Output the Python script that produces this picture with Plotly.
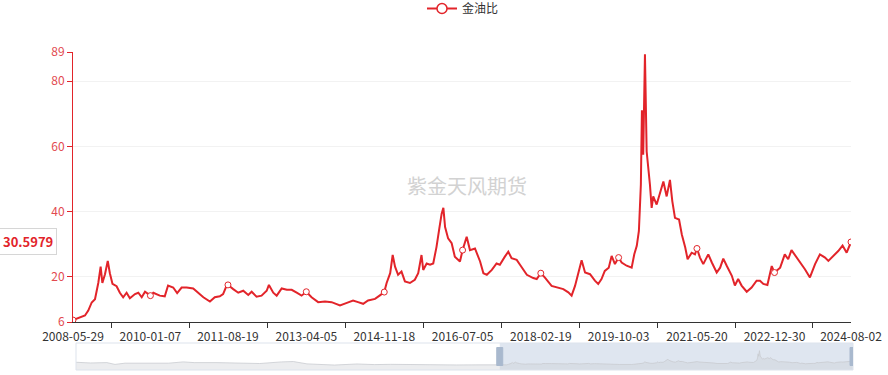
import plotly.graph_objects as go
import pandas as pd

series_name = "金油比"
watermark_text = "紫金天风期货"

# ---- main series ----
dates = [
    "2008-05-29", "2008-07-20", "2008-08-28", "2008-09-22", "2008-10-18", "2008-11-12", "2008-12-07", "2008-12-25",
    "2009-01-07", "2009-01-27", "2009-02-17", "2009-03-05", "2009-03-25", "2009-04-25", "2009-05-20", "2009-06-14",
    "2009-07-10", "2009-08-04", "2009-09-12", "2009-10-07", "2009-11-02", "2009-11-27",
    "2010-01-07", "2010-01-29", "2010-03-19", "2010-04-26", "2010-05-21", "2010-06-29", "2010-07-29", "2010-09-01",
    "2010-10-09", "2010-11-28",
    "2011-01-06", "2011-02-13", "2011-04-04", "2011-05-11", "2011-06-18", "2011-07-13", "2011-08-09", "2011-08-19",
    "2011-09-28", "2011-11-05", "2011-12-13",
    "2012-01-20", "2012-02-15", "2012-03-23", "2012-04-30", "2012-06-08", "2012-06-25", "2012-07-28", "2012-08-23",
    "2012-09-30", "2012-11-08", "2012-12-15",
    "2013-01-22", "2013-02-28", "2013-04-05", "2013-05-15", "2013-07-04", "2013-08-25", "2013-10-14", "2013-11-22",
    "2013-12-17",
    "2014-02-07", "2014-03-26", "2014-05-03", "2014-06-11", "2014-07-18", "2014-09-09", "2014-10-16", "2014-11-18",
    "2014-12-06",
    "2015-01-02", "2015-01-21", "2015-02-08", "2015-03-03", "2015-03-29", "2015-04-24", "2015-06-01", "2015-07-08",
    "2015-08-03", "2015-08-28", "2015-09-10", "2015-10-06", "2015-11-01", "2015-11-25", "2015-12-20",
    "2016-01-10", "2016-01-28", "2016-02-10", "2016-02-23", "2016-03-17", "2016-04-13", "2016-05-07", "2016-06-15",
    "2016-07-05", "2016-08-05", "2016-08-30", "2016-10-07", "2016-11-15", "2016-12-10",
    "2017-01-05", "2017-02-12", "2017-03-20", "2017-04-14", "2017-05-22", "2017-06-17", "2017-07-12", "2017-08-20",
    "2017-09-14", "2017-11-05", "2017-12-24",
    "2018-01-19", "2018-02-19", "2018-03-21", "2018-05-12", "2018-07-01", "2018-08-09", "2018-09-16", "2018-10-11",
    "2018-11-06", "2018-12-01", "2018-12-26",
    "2019-01-21", "2019-02-28", "2019-04-06", "2019-05-01", "2019-05-26", "2019-06-20", "2019-07-20", "2019-08-11",
    "2019-09-05", "2019-10-03", "2019-10-26", "2019-12-03",
    "2020-01-10", "2020-01-30", "2020-02-18", "2020-03-05", "2020-03-20", "2020-03-28", "2020-04-07", "2020-04-20",
    "2020-05-03", "2020-05-15", "2020-05-28", "2020-06-10", "2020-06-22", "2020-07-18", "2020-08-12", "2020-09-07",
    "2020-10-02", "2020-10-27", "2020-11-14", "2020-12-04",
    "2021-01-04", "2021-01-25", "2021-02-20", "2021-03-10", "2021-04-10", "2021-05-05", "2021-05-20", "2021-06-12",
    "2021-07-07", "2021-08-14", "2021-09-10", "2021-10-17", "2021-11-12", "2021-12-06",
    "2022-01-02", "2022-02-09", "2022-03-04", "2022-03-29", "2022-04-24", "2022-06-02", "2022-07-09", "2022-08-16",
    "2022-09-11", "2022-10-06", "2022-11-06", "2022-12-09", "2022-12-30",
    "2023-02-11", "2023-03-18", "2023-04-13", "2023-05-08", "2023-06-10", "2023-07-10", "2023-08-18", "2023-09-25",
    "2023-11-03", "2023-12-10",
    "2024-01-18", "2024-02-12", "2024-03-20", "2024-04-27", "2024-05-30", "2024-06-30", "2024-08-02",
]
values = [
    6.6, 7.3, 8.0, 9.5, 12.0, 13.0, 18.0, 23.0,
    18.0, 20.7, 24.8, 21.0, 17.7, 17.0, 15.0, 13.6,
    15.0, 13.3, 14.6, 15.0, 13.6, 15.3,
    14.1, 15.0, 14.1, 13.9, 17.2, 16.6, 14.9, 16.6,
    16.6, 16.3,
    15.0, 13.6, 12.3, 13.6, 13.9, 14.6, 17.2, 17.4,
    16.1, 15.0, 15.6,
    14.3, 15.3, 13.8, 14.1, 15.6, 17.4, 15.0, 14.1,
    16.3, 15.9, 15.9,
    15.0, 14.1, 15.3, 13.6, 12.1, 12.3, 12.1, 11.6,
    11.1,
    11.9, 12.6, 12.1, 11.6, 12.6, 13.1, 14.2, 15.2,
    18.0,
    21.0, 26.6, 23.0, 20.5, 21.5, 18.5, 18.0, 19.0,
    21.0, 26.6, 22.0, 24.0, 23.6, 24.0, 29.1,
    34.7, 39.3, 41.1, 35.2, 31.7, 30.2, 26.1, 24.6,
    28.1, 32.2, 28.1, 28.6, 24.6, 21.0,
    20.5, 22.0, 24.0, 23.6, 26.1, 27.6, 25.6, 25.1,
    23.6, 20.5, 19.5,
    19.2, 21.0, 19.7, 17.1, 16.6, 16.1, 15.1, 14.1,
    17.1, 20.7, 25.0,
    21.2, 20.7, 18.7, 17.7, 19.2, 21.7, 22.7, 26.3,
    23.8, 25.8, 24.3, 23.3,
    22.7, 26.8, 29.4, 34.0, 48.2, 71.1, 57.4, 88.3,
    58.4, 54.3, 48.2, 41.1, 44.6, 42.1, 45.7, 49.2,
    44.6, 49.7, 43.1, 38.0,
    37.5, 32.9, 28.9, 25.3, 27.3, 26.8, 28.6, 25.8,
    23.8, 26.8, 24.3, 21.2, 22.7, 25.5,
    23.2, 20.2, 17.2, 19.2, 17.2, 15.3, 16.6, 18.7,
    18.7, 17.7, 17.4, 23.2, 21.2,
    22.7, 26.8, 25.3, 28.1, 26.3, 24.3, 22.2, 19.7,
    23.8, 26.8,
    25.8, 24.8, 26.3, 27.8, 29.5, 27.3, 30.5979,
]
assert len(dates) == len(values)

# ---- earlier history, only visible in the zoom slider ----
hist_dates = [
    "1989-01-01", "1989-09-01", "1990-06-01", "1990-10-15", "1991-04-01", "1992-03-01", "1993-04-01", "1993-12-01",
    "1994-06-01", "1995-06-01", "1996-06-01", "1997-06-01", "1998-06-01", "1998-12-15", "1999-08-01", "2000-03-01",
    "2000-11-01", "2001-11-15", "2002-09-01", "2003-06-01", "2004-06-01", "2005-06-01", "2006-06-01", "2007-06-01",
    "2008-01-15",
]
hist_values = [
    24.0, 20.0, 22.0, 12.0, 19.0, 17.5, 19.0, 26.0,
    22.0, 22.0, 18.0, 17.0, 26.0, 28.0, 15.0, 11.0,
    8.5, 14.5, 11.0, 12.5, 10.0, 7.5, 9.0, 9.5,
    10.0,
]

tick_dates = ["2008-05-29", "2010-01-07", "2011-08-19", "2013-04-05", "2014-11-18", "2016-07-05",
              "2018-02-19", "2019-10-03", "2021-05-20", "2022-12-30", "2024-08-02"]
y_ticks = [6, 20, 40, 60, 80, 89]

RED = "#e2242a"
RED_LABEL = "#e24a50"

W, H = 888, 375
ML, MR, MT, MB = 73, 35, 52, 5
PW = W - ML - MR
PH = H - MT - MB
main_bottom = (H - MB - 322) / PH
slider_top = (H - MB - 343) / PH
x_main_end = 778 / PW
x_slider_start = 3 / PW

td = pd.to_datetime(tick_dates)
mid_ticks = [(td[i] + (td[i + 1] - td[i]) / 2).strftime("%Y-%m-%d") for i in range(len(td) - 1)]

mark_x = [d for d in dates if d in tick_dates]
mark_y = [v for d, v in zip(dates, values) if d in tick_dates]

all_dates = hist_dates + dates
all_values = hist_values + values
slider_floor = -19

fig = go.Figure()

# slider shadow
fig.add_trace(go.Scatter(x=[all_dates[0], all_dates[-1]], y=[slider_floor, slider_floor],
                         xaxis="x2", yaxis="y2", mode="lines", line=dict(width=0),
                         showlegend=False, hoverinfo="skip"))
fig.add_trace(go.Scatter(x=all_dates, y=all_values, xaxis="x2", yaxis="y2", mode="lines",
                         line=dict(color="#c9ccd1", width=0.8), fill="tonexty",
                         fillcolor="rgba(200,204,210,0.35)", showlegend=False, hoverinfo="skip"))

# main line
fig.add_trace(go.Scatter(x=dates, y=values, mode="lines", line=dict(color=RED, width=2),
                         name=series_name, showlegend=False))
fig.add_trace(go.Scatter(x=mark_x, y=mark_y, mode="markers",
                         marker=dict(symbol="circle", size=6, color="white", line=dict(color=RED, width=1)),
                         showlegend=False, hoverinfo="skip"))
# legend entry
fig.add_trace(go.Scatter(x=[None], y=[None], mode="lines+markers", name=series_name,
                         line=dict(color=RED, width=2),
                         marker=dict(symbol="circle", size=10, color="white", line=dict(color=RED, width=1.5))))

fig.update_layout(
    width=W, height=H, autosize=False,
    margin=dict(l=ML, r=MR, t=MT, b=MB, pad=0, autoexpand=False),
    paper_bgcolor="white", plot_bgcolor="white",
    font=dict(family="Noto Sans CJK SC, sans-serif", size=12, color="#333"),
    legend=dict(orientation="h", x=0.5, xanchor="center", yref="paper", y=1 + 58 / PH, yanchor="top",
                font=dict(size=12, color="#333"), itemwidth=30),
    xaxis=dict(domain=[0, x_main_end], anchor="y", type="date", automargin=False,
               range=[dates[0], dates[-1]],
               tickvals=tick_dates, ticktext=tick_dates, ticks="",
               ticklabelstandoff=4,
               showline=True, linecolor="#333", linewidth=1, showgrid=False, zeroline=False,
               tickfont=dict(size=12, color="#333"),
               minor=dict(tickvals=mid_ticks, ticks="outside", ticklen=5, tickcolor="#333", showgrid=False)),
    yaxis=dict(domain=[main_bottom, 1], anchor="x", range=[6, 89], automargin=False,
               tickvals=y_ticks, ticktext=[str(t) for t in y_ticks],
               showline=True, linecolor=RED, linewidth=1,
               ticks="outside", ticklen=5, tickcolor=RED,
               tickfont=dict(size=12, color=RED_LABEL),
               showgrid=True, gridcolor="#f2f2f2", zeroline=False),
    xaxis2=dict(domain=[x_slider_start, 1], anchor="y2", type="date", automargin=False,
                range=[all_dates[0], all_dates[-1]], visible=False),
    yaxis2=dict(domain=[0, slider_top], anchor="x2", range=[slider_floor, 131], visible=False,
                automargin=False),
    shapes=[
        dict(type="rect", xref="x2", yref="paper", x0=dates[0], x1=dates[-1], y0=0, y1=slider_top,
             fillcolor="rgba(140,165,200,0.28)", line=dict(width=0), layer="below"),
        dict(type="rect", xref="paper", yref="paper", x0=x_slider_start, x1=1, y0=0, y1=slider_top,
             line=dict(color="#dde3ec", width=1), fillcolor="rgba(0,0,0,0)"),
        dict(type="rect", xref="x2", yref="paper", xsizemode="pixel", xanchor=dates[0], x0=-3, x1=3,
             ysizemode="pixel", yanchor=slider_top / 2, y0=-9, y1=9,
             fillcolor="#a9b9ce", line=dict(color="#a9b9ce", width=1)),
        dict(type="rect", xref="x2", yref="paper", xsizemode="pixel", xanchor=dates[-1], x0=-3, x1=3,
             ysizemode="pixel", yanchor=slider_top / 2, y0=-9, y1=9,
             fillcolor="#a9b9ce", line=dict(color="#a9b9ce", width=1)),
    ],
    annotations=[
        dict(text=watermark_text, xref="paper", yref="paper", x=(467 - ML) / PW, y=(H - MB - 185) / PH,
             showarrow=False, font=dict(size=20, color="#d2d2d2")),
        dict(text="<b>%.4f</b>" % values[-1], xref="paper", yref="y", x=-16 / PW, y=values[-1],
             xanchor="right", yanchor="middle", showarrow=False,
             font=dict(size=13, color=RED), bgcolor="white", bordercolor="#d6d6d6", borderwidth=1, borderpad=3),
    ],
)

fig.write_html("out.html")
